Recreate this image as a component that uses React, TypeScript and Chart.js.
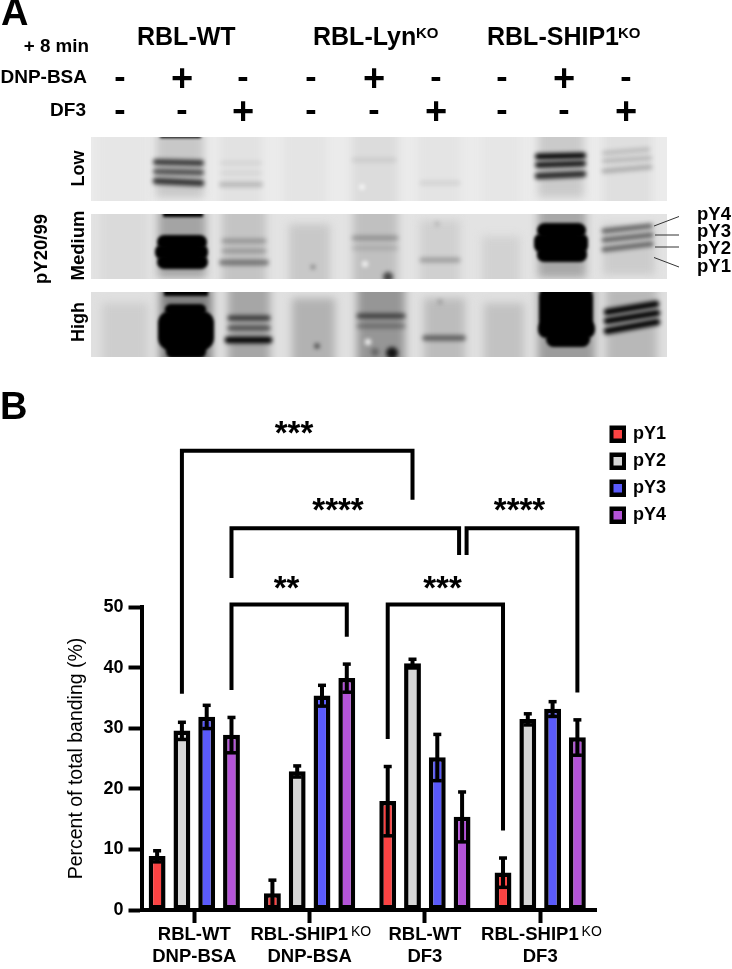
import React, { useEffect, useRef } from "react";
import { Chart, registerables } from "chart.js";

Chart.register(...registerables);

const FONT = '"Liberation Sans", Arial, sans-serif';

// ---- Panel B data ----
const categories: string[][] = [
  ["RBL-WT", "DNP-BSA"],
  ["RBL-SHIP1\u00A0\u00A0\u00A0\u00A0", "DNP-BSA"],
  ["RBL-WT", "DF3"],
  ["RBL-SHIP1\u00A0\u00A0\u00A0\u00A0", "DF3"],
];
const seriesNames = ["pY1", "pY2", "pY3", "pY4"];
const seriesColors = ["#FB4343", "#D7D7D7", "#5A5AFB", "#B454D8"];
const pY1 = [8.9, 2.75, 18, 6.2];
const pY2 = [29.6, 22.9, 40.7, 31.5];
const pY3 = [31.9, 35.4, 25.2, 33.2];
const pY4 = [28.9, 38.3, 15.4, 28.5];
const pY1Err = [1.0, 2.3, 5.8, 2.5];
const pY2Err = [1.5, 1.0, 0.8, 1.0];
const pY3Err = [2.0, 1.8, 3.9, 1.3];
const pY4Err = [3.0, 2.4, 4.2, 3.0];
const seriesValues = [pY1, pY2, pY3, pY4];
const seriesErrors = [pY1Err, pY2Err, pY3Err, pY4Err];
const yTicks = { min: 0, max: 50, step: 10 };

// significance brackets: [category, series] ends, bar-top level and leg ends in axis units
const brackets = [
  { a: [0, 1], b: [2, 1], top: 75.8, aEnd: 35.7, bEnd: 67.7, nudgeA: 0, nudgeB: 0, stars: "***", sx: 294, sy: 428 },
  { a: [0, 3], b: [2, 3], top: 63, aEnd: 54.8, bEnd: 58.6, nudgeA: 0, nudgeB: -3, stars: "****", sx: 338, sy: 505 },
  { a: [2, 3], b: [3, 3], top: 63, aEnd: 58.6, bEnd: 35.9, nudgeA: 4.5, nudgeB: 0, stars: "****", sx: 519.5, sy: 505 },
  { a: [0, 3], b: [1, 3], top: 50.4, aEnd: 36.3, bEnd: 45.1, nudgeA: 0, nudgeB: 0, stars: "**", sx: 286.5, sy: 583 },
  { a: [2, 0], b: [3, 0], top: 50.4, aEnd: 28.2, bEnd: 13.1, nudgeA: 0, nudgeB: 0, stars: "***", sx: 442.5, sy: 583 },
];

// ---- Panel A content ----
const laneX = [120, 182, 243, 311, 374, 436, 502, 564, 626];
const dnpBsa = ["-", "+", "-", "-", "+", "-", "-", "+", "-"];
const df3 = ["-", "-", "+", "-", "-", "+", "-", "-", "+"];
const proteinLabels = ["pY4", "pY3", "pY2", "pY1"];

type Smear = [number, number, number, number, string];
type Band = [number, number, number, number, number, number]; // x0,y0,x1,y1,width,alpha
type Blob = [number, number, number, number, number];
type Spot = [number, number, number, string];
interface BlotPanel {
  top: number; bottom: number; bg: string;
  smears: Smear[]; bands: Band[]; blobs: Blob[]; spots: Spot[];
}
const blotPanels: BlotPanel[] = [
  {
    top: 137, bottom: 201, bg: "#ebebeb",
    smears: [
      [97, 148, 125, 215, "#e6e6e6"], [156, 204, 125, 198, "#c8c8c8"], [220, 262, 125, 215, "#e2e2e2"],
      [284, 326, 125, 215, "#e4e4e4"], [352, 398, 125, 215, "#dcdcdc"], [418, 460, 125, 215, "#e4e4e4"],
      [482, 520, 125, 215, "#e6e6e6"], [538, 584, 125, 198, "#cacaca"], [603, 652, 125, 215, "#dfdfdf"],
    ],
    bands: [
      [156, 162, 201, 163, 6, 0.72], [156, 171.5, 201, 172.5, 6, 0.6], [156, 181, 201, 183, 6.5, 0.75],
      [222, 163, 260, 163, 4.5, 0.06], [222, 173, 260, 173, 4.5, 0.05], [222, 184.5, 260, 184.5, 6, 0.17],
      [354, 160, 394, 160, 5, 0.07], [422, 183, 458, 183, 5, 0.07],
      [538, 156.5, 583, 155.5, 6, 1], [538, 165, 583, 163.5, 6, 0.9], [538, 176, 583, 174, 6.5, 0.8],
      [604, 153, 648, 149.5, 4.5, 0.16], [604, 161, 650, 158, 4.5, 0.18], [604, 171, 650, 167, 5, 0.22],
    ],
    blobs: [[160, 134, 201, 138, 1]],
    spots: [[362, 187, 2.5, "#ffffff"]],
  },
  {
    top: 214, bottom: 279, bg: "#e3e3e3",
    smears: [
      [100, 147, 200, 290, "#dadada"], [158, 206, 200, 278, "#a4a4a4"], [222, 266, 200, 290, "#c4c4c4"],
      [289, 330, 224, 290, "#c8c8c8"], [353, 398, 200, 290, "#c0c0c0"], [420, 460, 220, 290, "#d0d0d0"],
      [482, 520, 236, 290, "#d2d2d2"], [538, 586, 200, 278, "#a8a8a8"], [603, 655, 224, 275, "#cccccc"],
    ],
    bands: [
      [224, 241, 264, 241, 5, 0.24], [224, 251, 264, 251, 5, 0.22], [222, 262.5, 266, 262.5, 6, 0.4],
      [354, 238, 396, 238, 5, 0.24], [354, 248, 396, 248, 5, 0.1], [422, 260, 458, 260, 5, 0.24],
      [604, 231, 650, 226, 5, 0.52], [604, 240, 651, 235, 5, 0.52], [604, 249.5, 651, 244, 5, 0.52],
    ],
    blobs: [
      [163, 210, 203, 217, 1],
      [157, 235, 207, 249, 7], [155, 245, 208, 259, 6], [157, 255, 208, 269, 7],
      [537, 223, 586, 238, 8], [534, 234, 588, 252, 6], [537, 247, 587, 262, 7],
    ],
    spots: [[365, 264, 2.8, "#ffffff"], [313, 267, 2, "#666666"], [388, 277, 5, "#444444"], [437, 224, 2.5, "#b4b4b4"]],
  },
  {
    top: 292, bottom: 357, bg: "#e0e0e0",
    smears: [
      [102, 148, 303, 370, "#cecece"], [160, 212, 280, 370, "#808080"], [228, 270, 280, 370, "#a6a6a6"],
      [292, 335, 298, 370, "#b2b2b2"], [357, 405, 280, 370, "#969696"], [424, 465, 298, 370, "#bcbcbc"],
      [484, 524, 303, 370, "#c2c2c2"], [538, 595, 280, 370, "#9c9c9c"], [606, 657, 285, 370, "#b8b8b8"],
    ],
    bands: [
      [230, 318, 268, 318, 5, 0.7], [230, 328, 268, 328, 5, 0.55], [228, 340, 269, 340, 6.5, 1],
      [359, 316, 403, 316, 5, 0.6], [359, 326, 403, 326, 5, 0.28], [425, 338, 463, 338, 5.5, 0.5],
      [607, 312, 656, 304, 6.5, 1], [607, 321, 657, 313, 6.5, 1], [607, 331, 657, 322, 6.5, 1],
    ],
    blobs: [
      [164, 288, 208, 296, 1],
      [165, 304, 206, 315, 8], [158, 311, 214, 350, 12], [166, 340, 206, 358, 6],
      [539, 286, 593, 330, 10], [538, 320, 595, 338, 8], [546, 332, 590, 347, 8],
    ],
    spots: [[368, 342, 3, "#ffffff"], [317, 346, 2.5, "#333333"], [392, 353, 6, "#151515"], [375, 352, 4, "#666666"], [440, 302, 2.5, "#999999"]],
  },
];

function drawText(
  ctx: CanvasRenderingContext2D, text: string, x: number, y: number, font: string,
  align: CanvasTextAlign = "center", rotate = false, color = "#000",
) {
  ctx.save();
  ctx.font = font;
  ctx.fillStyle = color;
  ctx.textAlign = align;
  ctx.textBaseline = "middle";
  ctx.translate(x, y);
  if (rotate) ctx.rotate(-Math.PI / 2);
  ctx.fillText(text, 0, 0);
  ctx.restore();
}

function drawBlot(ctx: CanvasRenderingContext2D) {
  for (const p of blotPanels) {
    ctx.save();
    ctx.beginPath();
    ctx.rect(91, p.top, 576, p.bottom - p.top);
    ctx.clip();
    ctx.fillStyle = p.bg;
    ctx.fillRect(91, p.top, 576, p.bottom - p.top);
    ctx.filter = "blur(4.5px)";
    for (const [x0, x1, y0, y1, c] of p.smears) {
      ctx.fillStyle = c;
      ctx.fillRect(x0, y0, x1 - x0, y1 - y0);
    }
    ctx.filter = "blur(2.2px)";
    for (const [x0, y0, x1, y1, w, a] of p.bands) {
      ctx.strokeStyle = `rgba(0,0,0,${a})`;
      ctx.lineWidth = w;
      ctx.lineCap = "round";
      ctx.beginPath();
      ctx.moveTo(x0, y0);
      ctx.lineTo(x1, y1);
      ctx.stroke();
    }
    ctx.filter = "blur(1.5px)";
    ctx.fillStyle = "#000";
    for (const [x0, y0, x1, y1, r] of p.blobs) {
      ctx.beginPath();
      ctx.roundRect(x0, y0, x1 - x0, y1 - y0, r);
      ctx.fill();
    }
    ctx.filter = "blur(2px)";
    for (const [x, y, r, c] of p.spots) {
      ctx.fillStyle = c;
      ctx.beginPath();
      ctx.arc(x, y, r, 0, Math.PI * 2);
      ctx.fill();
    }
    ctx.restore();
  }
}

function drawPanelA(ctx: CanvasRenderingContext2D) {
  drawBlot(ctx);
  const bold = (s: number) => `bold ${s}px ${FONT}`;
  drawText(ctx, "A", 1, 15, bold(38), "left");
  drawText(ctx, "B", 0, 409, bold(38), "left");
  drawText(ctx, "RBL-WT", 137, 38, bold(25), "left");
  drawText(ctx, "RBL-Lyn", 313, 38, bold(25), "left");
  drawText(ctx, "KO", 416, 34, bold(15), "left");
  drawText(ctx, "RBL-SHIP1", 487, 38, bold(25), "left");
  drawText(ctx, "KO", 618, 34, bold(15), "left");
  drawText(ctx, "+ 8 min", 89, 47, bold(18.8), "right");
  drawText(ctx, "DNP-BSA", 87, 78, bold(19), "right");
  drawText(ctx, "DF3", 86, 111, bold(19), "right");
  laneX.forEach((x, i) => {
    const big1 = dnpBsa[i] === "+";
    const big2 = df3[i] === "+";
    drawText(ctx, dnpBsa[i], x, big1 ? 81 : 79, bold(big1 ? 38 : 34));
    drawText(ctx, df3[i], x, big2 ? 114 : 112, bold(big2 ? 38 : 34));
  });
  drawText(ctx, "Low", 79, 168.5, bold(18), "center", true);
  drawText(ctx, "Medium", 79, 245.5, bold(18.5), "center", true);
  drawText(ctx, "High", 79, 322, bold(18), "center", true);
  drawText(ctx, "pY20/99", 42, 249, bold(18.5), "center", true);
  const labelY = [215, 232, 249, 267];
  proteinLabels.forEach((t, i) => drawText(ctx, t, 697, labelY[i], bold(18.5), "left"));
  ctx.save();
  ctx.strokeStyle = "#333";
  ctx.lineWidth = 1;
  const lines = [[654, 226, 679, 216.5], [655, 235, 679, 235], [655, 247, 679, 247], [654, 257.5, 679, 267]];
  for (const [a, b, c, d] of lines) {
    ctx.beginPath();
    ctx.moveTo(a, b);
    ctx.lineTo(c, d);
    ctx.stroke();
  }
  ctx.restore();
}

const figurePlugin = {
  id: "figure",
  beforeDraw(chart: any) {
    const ctx: CanvasRenderingContext2D = chart.ctx;
    ctx.save();
    ctx.fillStyle = "#fff";
    ctx.fillRect(0, 0, chart.width, chart.height);
    ctx.restore();
    drawPanelA(ctx);
  },
  afterDatasetsDraw(chart: any) {
    const ctx: CanvasRenderingContext2D = chart.ctx;
    const y = chart.scales.y;
    const xs = chart.scales.x;
    ctx.save();
    // error bars
    ctx.fillStyle = "#000";
    seriesValues.forEach((vals, d) => {
      const meta = chart.getDatasetMeta(d);
      vals.forEach((v, i) => {
        const cx = meta.data[i].x;
        const hi = y.getPixelForValue(v + seriesErrors[d][i]);
        const lo = y.getPixelForValue(v - seriesErrors[d][i]);
        ctx.fillRect(cx - 2, hi, 4, lo - hi);
        ctx.fillRect(cx - 4, hi - 1, 8, 3.5);
        ctx.fillRect(cx - 4.5, lo - 2, 9, 3.5);
      });
    });
    // brackets
    ctx.strokeStyle = "#000";
    ctx.lineWidth = 4;
    ctx.lineJoin = "miter";
    ctx.lineCap = "butt";
    for (const b of brackets) {
      const xa = chart.getDatasetMeta(b.a[1]).data[b.a[0]].x + b.nudgeA;
      const xb = chart.getDatasetMeta(b.b[1]).data[b.b[0]].x + b.nudgeB;
      ctx.beginPath();
      ctx.moveTo(xa, y.getPixelForValue(b.aEnd));
      ctx.lineTo(xa, y.getPixelForValue(b.top));
      ctx.lineTo(xb, y.getPixelForValue(b.top));
      ctx.lineTo(xb, y.getPixelForValue(b.bEnd));
      ctx.stroke();
      drawText(ctx, b.stars, b.sx, b.sy + 7, `bold 33px ${FONT}`);
    }
    // superscripts on the category labels
    categories.forEach((c, i) => {
      if (c[0].startsWith("RBL-SHIP1")) {
        drawText(ctx, "KO", xs.getPixelForValue(i) + 41.4, 932, `14px ${FONT}`, "left");
      }
    });
    // legend
    seriesNames.forEach((name, i) => {
      const top = 425.5 + i * 27;
      ctx.fillStyle = "#000";
      ctx.fillRect(609.5, top, 16.5, 17.5);
      ctx.fillStyle = seriesColors[i];
      ctx.fillRect(613.5, top + 4.5, 8.5, 8.5);
      drawText(ctx, name, 633, top + 8.5, `bold 18px ${FONT}`, "left");
    });
    ctx.restore();
  },
};

export default function App() {
  const ref = useRef<HTMLCanvasElement | null>(null);
  useEffect(() => {
    if (!ref.current) return;
    const chart = new Chart(ref.current, {
      type: "bar",
      data: {
        datasets: seriesNames.map((name, d) => ({
          label: name,
          data: seriesValues[d].map((v, i) => ({ x: i, y: v })),
          backgroundColor: seriesColors[d],
          borderColor: "#000",
          borderWidth: 4.5,
          borderSkipped: false,
          categoryPercentage: 0.86,
          barPercentage: 0.68,
        })),
      } as any,
      options: {
        responsive: false,
        animation: false,
        layout: { padding: { top: 607, right: 136, bottom: 0, left: 0 } },
        plugins: { legend: { display: false }, tooltip: { enabled: false } },
        scales: {
          x: {
            type: "linear",
            offset: false,
            min: -0.458,
            max: 3.484,
            grid: { offset: false, drawOnChartArea: false, drawTicks: true, tickLength: 13, tickWidth: 4, tickColor: "#000" },
            border: { color: "#000", width: 4 },
            afterFit: (s: any) => { s.height = 59; },
            ticks: {
              stepSize: 1,
              includeBounds: false,
              autoSkip: false,
              maxRotation: 0,
              padding: 1,
              color: "#000",
              font: { family: FONT, size: 18.5, weight: "bold", lineHeight: 1.17 },
              callback: (v: any) => categories[v as number] ?? "",
            },
          },
          y: {
            min: yTicks.min,
            max: yTicks.max,
            grid: { drawOnChartArea: false, drawTicks: true, tickLength: 13, tickWidth: 4, tickColor: "#000" },
            border: { color: "#000", width: 4 },
            afterFit: (s: any) => { s.width = 141.5; },
            title: {
              display: true,
              text: "Percent of total banding (%)",
              color: "#000",
              font: { family: FONT, size: 19.5 },
              padding: { top: 65, bottom: 0 },
            },
            ticks: {
              stepSize: yTicks.step,
              padding: 5,
              color: "#000",
              font: { family: FONT, size: 18, weight: "bold" },
            },
          },
        },
      } as any,
      plugins: [figurePlugin] as any,
    });
    return () => chart.destroy();
  }, []);
  return (
    <canvas
      ref={ref}
      width={732}
      height={969}
      style={{ position: "absolute", left: 0, top: 0, display: "block", width: 732, height: 969, filter: "blur(0.45px)" }}
    />
  );
}
